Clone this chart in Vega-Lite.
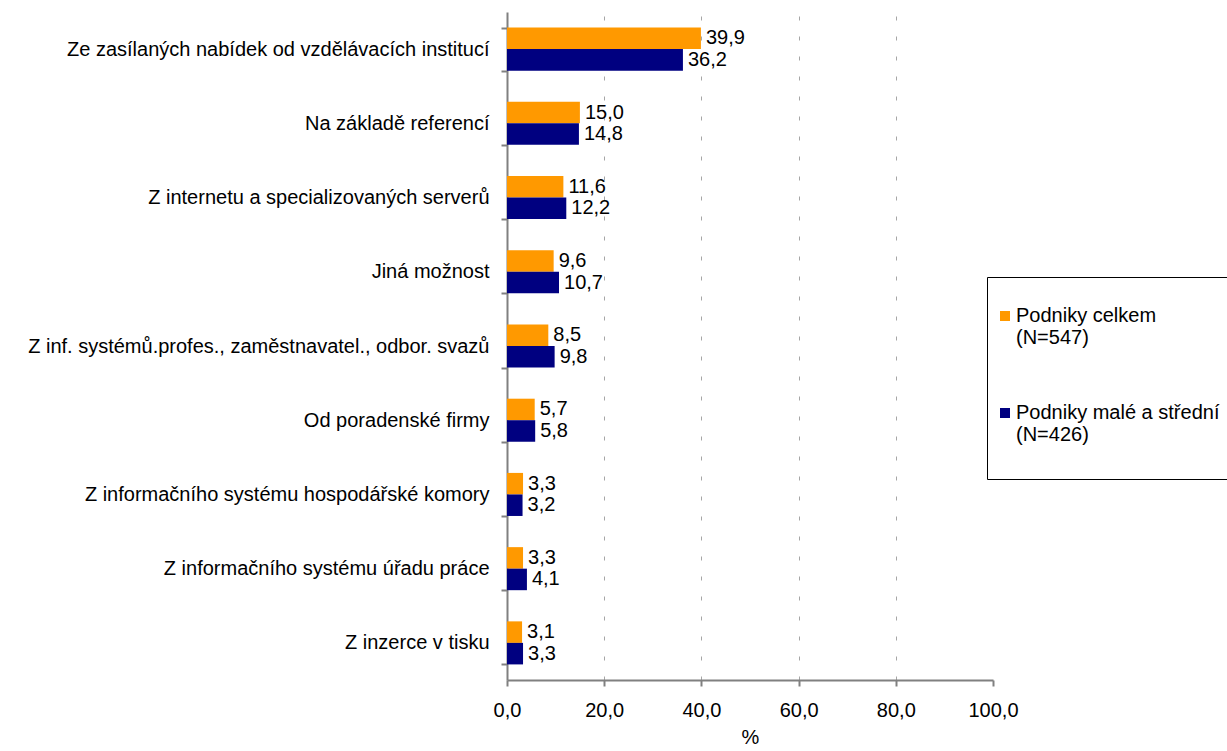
{
  "$schema": "https://vega.github.io/schema/vega-lite/v6.json",
  "autosize": "none",
  "width": 486,
  "height": 668,
  "padding": {"left": 507, "top": 12, "right": 234, "bottom": 71},
  "background": "white",
  "config": {
    "font": "Liberation Sans",
    "view": {"stroke": null},
    "locale": {"number": {"decimal": ",", "thousands": " ", "grouping": [3], "currency": ["", " Kč"]}}
  },
  "data": {
    "values": [
      {"cat": "Ze zasílaných nabídek od vzdělávacích institucí", "series": "Podniky celkem (N=547)", "value": 39.9},
      {"cat": "Ze zasílaných nabídek od vzdělávacích institucí", "series": "Podniky malé a střední (N=426)", "value": 36.2},
      {"cat": "Na základě referencí", "series": "Podniky celkem (N=547)", "value": 15.0},
      {"cat": "Na základě referencí", "series": "Podniky malé a střední (N=426)", "value": 14.8},
      {"cat": "Z internetu a specializovaných serverů", "series": "Podniky celkem (N=547)", "value": 11.6},
      {"cat": "Z internetu a specializovaných serverů", "series": "Podniky malé a střední (N=426)", "value": 12.2},
      {"cat": "Jiná možnost", "series": "Podniky celkem (N=547)", "value": 9.6},
      {"cat": "Jiná možnost", "series": "Podniky malé a střední (N=426)", "value": 10.7},
      {"cat": "Z inf. systémů.profes., zaměstnavatel., odbor. svazů", "series": "Podniky celkem (N=547)", "value": 8.5},
      {"cat": "Z inf. systémů.profes., zaměstnavatel., odbor. svazů", "series": "Podniky malé a střední (N=426)", "value": 9.8},
      {"cat": "Od poradenské firmy", "series": "Podniky celkem (N=547)", "value": 5.7},
      {"cat": "Od poradenské firmy", "series": "Podniky malé a střední (N=426)", "value": 5.8},
      {"cat": "Z informačního systému hospodářské komory", "series": "Podniky celkem (N=547)", "value": 3.3},
      {"cat": "Z informačního systému hospodářské komory", "series": "Podniky malé a střední (N=426)", "value": 3.2},
      {"cat": "Z informačního systému úřadu práce", "series": "Podniky celkem (N=547)", "value": 3.3},
      {"cat": "Z informačního systému úřadu práce", "series": "Podniky malé a střední (N=426)", "value": 4.1},
      {"cat": "Z inzerce v tisku", "series": "Podniky celkem (N=547)", "value": 3.1},
      {"cat": "Z inzerce v tisku", "series": "Podniky malé a střední (N=426)", "value": 3.3}
    ]
  },
  "encoding": {
    "y": {
      "field": "cat", "type": "nominal", "sort": null,
      "scale": {"paddingInner": 0.42, "paddingOuter": 0.21},
      "axis": {
        "title": null, "tickBand": "extent", "domainColor": "#808080", "domainWidth": 2,
        "tickColor": "#808080", "tickWidth": 2, "tickSize": 6, "labelPadding": 12,
        "labelFontSize": 20, "labelColor": "black", "labelLimit": 600
      }
    },
    "yOffset": {"field": "series", "type": "nominal", "scale": {"domain": ["Podniky celkem (N=547)", "Podniky malé a střední (N=426)"], "paddingInner": 0, "paddingOuter": 0}},
    "x": {
      "field": "value", "type": "quantitative",
      "scale": {"domain": [0, 100], "nice": false},
      "axis": {
        "title": "%", "values": [0, 20, 40, 60, 80, 100], "format": ".1f",
        "domainColor": "#808080", "domainWidth": 2, "tickColor": "#808080", "tickWidth": 2, "tickSize": 6,
        "labelFontSize": 20, "labelColor": "black", "labelPadding": 14, "labelFlush": false,
        "titleFontSize": 20, "titleFontWeight": "normal", "titleColor": "black", "titlePadding": 7,
        "grid": true, "gridColor": "#a6a6a6", "gridDash": [4, 16], "gridWidth": 1,
        "gridOpacity": {"condition": {"test": "datum.value == 0 || datum.value == 100", "value": 0}, "value": 1}
      }
    }
  },
  "layer": [
    {
      "mark": {"type": "bar", "cornerRadius": 0},
      "encoding": {
        "color": {
          "field": "series", "type": "nominal",
          "scale": {"domain": ["Podniky celkem (N=547)", "Podniky malé a střední (N=426)"], "range": ["#FF9900", "#000080"]},
          "legend": {
            "title": " ", "titleFontSize": 5, "titlePadding": 12,
            "orient": "none", "legendX": 480, "legendY": 265,
            "strokeColor": "black", "padding": 12, "rowPadding": 33,
            "symbolType": "square", "symbolSize": 100, "symbolStrokeWidth": 0, "symbolOffset": -4,
            "labelFontSize": 20, "labelColor": "black", "labelLimit": 400, "labelBaseline": "middle", "labelOffset": 1,
            "labelExpr": "datum.label == 'Podniky celkem (N=547)' ? ['Podniky celkem', '(N=547)', ''] : ['Podniky malé a střední', '(N=426)', '']"
          }
        }
      }
    },
    {
      "mark": {"type": "text", "align": "left", "baseline": "middle", "dx": 5, "fontSize": 20, "color": "black"},
      "encoding": {"text": {"field": "value", "type": "quantitative", "format": ".1f"}}
    }
  ]
}
